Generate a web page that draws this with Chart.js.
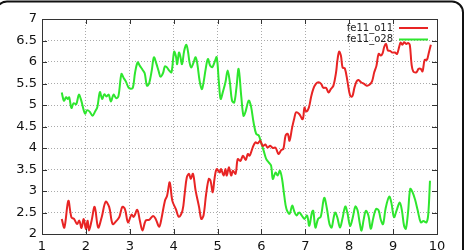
<!DOCTYPE html>
<html lang="en">
<head>
  <meta charset="UTF-8" />
  <title>fe11 distances</title>
  <script src="https://cdn.jsdelivr.net/npm/chart.js"></script>
  <style>
    html, body {
      margin: 0;
      padding: 0;
      background: #fff;
      overflow: hidden;
    }
    #wrap {
      position: relative;
      width: 467px;
      height: 250px;
    }
  </style>
</head>
<body>
  <div id="wrap"><canvas id="chart" width="467" height="250"></canvas></div>

  <script>
    const seriesNames = ["fe11_o11", "fe11_o28"];

    const o11X = [1.45, 1.51, 1.60, 1.67, 1.73, 1.80, 1.85, 1.90, 1.95, 2.00, 2.04, 2.07, 2.13, 2.20, 2.28, 2.36, 2.45, 2.53, 2.61, 2.70,
      2.76, 2.83, 2.89, 2.96, 3.04, 3.09, 3.17, 3.23, 3.29, 3.36, 3.44, 3.53, 3.59, 3.67, 3.72, 3.80, 3.85, 3.91, 3.97, 4.05,
      4.12, 4.20, 4.25, 4.30, 4.35, 4.39, 4.44, 4.50, 4.58, 4.63, 4.68, 4.74, 4.80, 4.84, 4.89, 4.93, 4.98, 5.05, 5.08, 5.14,
      5.18, 5.21, 5.26, 5.31, 5.35, 5.41, 5.46, 5.52, 5.58, 5.64, 5.69, 5.73, 5.80, 5.86, 5.92, 5.97, 6.03, 6.09, 6.14, 6.20,
      6.26, 6.32, 6.39, 6.45, 6.50, 6.55, 6.60, 6.64, 6.70, 6.75, 6.79, 6.86, 6.94, 6.98, 7.02, 7.08, 7.13, 7.18, 7.24, 7.30,
      7.36, 7.41, 7.47, 7.53, 7.58, 7.64, 7.70, 7.73, 7.77, 7.81, 7.85, 7.90, 7.96, 8.02, 8.07, 8.12, 8.17, 8.21, 8.27, 8.34,
      8.40, 8.46, 8.52, 8.57, 8.62, 8.67, 8.72, 8.76, 8.80, 8.84, 8.88, 8.93, 8.98, 9.04, 9.09, 9.14, 9.17, 9.21, 9.25, 9.30,
      9.34, 9.38, 9.42, 9.46, 9.53, 9.58, 9.63, 9.67, 9.72, 9.77, 9.81, 9.86];
    const o11Y = [2.35, 2.15, 2.77, 2.39, 2.35, 2.23, 2.31, 2.14, 2.35, 2.12, 2.31, 2.08, 2.31, 2.63, 2.15, 2.39, 2.75, 2.63, 2.23, 2.31,
      2.39, 2.63, 2.58, 2.27, 2.45, 2.40, 2.56, 2.31, 2.08, 2.31, 2.33, 2.42, 2.35, 2.17, 2.35, 2.77, 2.89, 3.20, 2.77, 2.58,
      2.40, 2.54, 2.93, 3.32, 3.40, 3.28, 3.40, 3.01, 2.62, 2.35, 2.43, 2.93, 3.28, 3.24, 2.97, 3.28, 3.51, 3.43, 3.51, 3.36,
      3.51, 3.36, 3.55, 3.36, 3.47, 3.40, 3.74, 3.70, 3.82, 3.72, 3.86, 3.82, 4.01, 4.13, 4.11, 4.17, 4.05, 4.08, 4.01, 4.05,
      4.00, 4.01, 3.86, 3.95, 3.98, 4.29, 4.33, 4.17, 4.48, 4.70, 4.83, 4.79, 4.67, 4.94, 4.85, 4.94, 5.18, 5.37, 5.49, 5.53,
      5.49, 5.40, 5.40, 5.29, 5.37, 5.45, 5.76, 6.03, 6.24, 6.15, 5.87, 5.85, 5.55, 5.22, 5.20, 5.41, 5.55, 5.58, 5.53, 5.49,
      5.45, 5.47, 5.55, 5.76, 5.91, 6.19, 6.15, 6.20, 6.36, 6.42, 6.27, 6.26, 6.22, 6.22, 6.19, 6.36, 6.45, 6.40, 6.46, 6.42,
      6.44, 6.40, 5.95, 5.78, 5.76, 5.84, 5.84, 5.78, 6.05, 6.05, 6.20, 6.40];

    const o28X = [1.45, 1.50, 1.55, 1.59, 1.62, 1.67, 1.72, 1.78, 1.84, 1.89, 1.98, 2.03, 2.09, 2.15, 2.21, 2.26, 2.32, 2.37, 2.42, 2.47,
      2.52, 2.57, 2.63, 2.69, 2.74, 2.81, 2.86, 2.91, 2.97, 3.02, 3.07, 3.12, 3.18, 3.23, 3.29, 3.34, 3.39, 3.44, 3.50, 3.55,
      3.60, 3.66, 3.70, 3.76, 3.80, 3.85, 3.90, 3.95, 4.01, 4.05, 4.08, 4.12, 4.15, 4.19, 4.24, 4.29, 4.33, 4.36, 4.40, 4.45,
      4.50, 4.54, 4.59, 4.64, 4.68, 4.73, 4.78, 4.83, 4.88, 4.93, 4.98, 5.03, 5.07, 5.12, 5.18, 5.23, 5.28, 5.33, 5.38, 5.43,
      5.48, 5.54, 5.59, 5.63, 5.71, 5.76, 5.82, 5.88, 5.94, 5.99, 6.05, 6.11, 6.17, 6.22, 6.26, 6.32, 6.37, 6.42, 6.47, 6.52,
      6.57, 6.64, 6.70, 6.75, 6.80, 6.86, 6.92, 6.98, 7.04, 7.09, 7.15, 7.18, 7.23, 7.29, 7.35, 7.43, 7.49, 7.55, 7.60, 7.64,
      7.68, 7.73, 7.79, 7.85, 7.91, 7.96, 8.02, 8.08, 8.14, 8.19, 8.24, 8.28, 8.33, 8.38, 8.44, 8.49, 8.55, 8.61, 8.67, 8.72,
      8.77, 8.83, 8.91, 8.96, 9.02, 9.08, 9.15, 9.20, 9.25, 9.29, 9.34, 9.39, 9.44, 9.50, 9.56, 9.63, 9.69, 9.76, 9.80, 9.84];
    const o28Y = [5.29, 5.10, 5.18, 5.14, 5.18, 4.93, 5.04, 5.02, 5.24, 5.12, 4.80, 4.88, 4.84, 4.75, 4.85, 4.95, 5.30, 5.14, 5.25, 5.20,
      5.24, 5.08, 5.24, 5.16, 5.20, 5.72, 5.63, 5.55, 5.41, 5.38, 5.40, 5.75, 5.99, 5.91, 5.82, 5.74, 5.45, 5.50, 5.80, 6.11,
      5.98, 5.78, 5.66, 5.75, 5.90, 5.87, 5.80, 5.76, 6.24, 6.14, 5.95, 6.22, 6.14, 5.95, 6.26, 6.40, 6.22, 6.00, 5.87, 5.98,
      6.11, 5.95, 5.57, 5.37, 5.52, 5.84, 6.07, 5.92, 5.88, 5.99, 6.11, 5.53, 5.14, 5.30, 5.53, 5.80, 5.53, 5.10, 5.06, 5.40,
      5.84, 5.20, 4.75, 4.82, 5.10, 4.98, 4.60, 4.33, 4.29, 4.13, 3.94, 3.74, 3.66, 3.59, 3.28, 3.43, 3.36, 3.47, 3.28, 2.89,
      2.58, 2.47, 2.66, 2.52, 2.43, 2.50, 2.43, 2.35, 2.43, 2.19, 2.50, 2.54, 2.15, 2.35, 2.40, 2.84, 2.60, 2.23, 2.15, 2.35,
      2.50, 2.38, 2.15, 2.38, 2.64, 2.48, 2.19, 2.38, 2.64, 2.55, 2.25, 2.08, 2.34, 2.54, 2.42, 2.12, 2.38, 2.58, 2.55, 2.33,
      2.23, 2.60, 2.87, 2.73, 2.39, 2.55, 2.73, 2.55, 2.19, 2.12, 2.50, 3.05, 2.98, 2.80, 2.55, 2.27, 2.30, 2.27, 2.45, 3.24];

    const seriesColors = ["#e82424", "#2ee62e"];

    const toPoints = (xs, ys) => xs.map((x, i) => ({ x: x, y: ys[i] }));
    const plainNum = v => String(Number(v.toFixed(2)));

    // gnuplot look: outer rounded frame, plot border, inward ticks, legend with line samples
    const gnuplotDeco = {
      id: "gnuplotDeco",
      beforeDraw(chart) {
        const c = chart.ctx;
        c.save();
        c.fillStyle = "#fff";
        c.fillRect(0, 0, chart.width, chart.height);
        c.restore();
      },
      afterDraw(chart) {
        const c = chart.ctx;
        const a = chart.chartArea;
        const xs = chart.scales.x;
        const ys = chart.scales.y;
        c.save();

        // plot border
        c.strokeStyle = "#333";
        c.lineWidth = 1;
        c.strokeRect(Math.round(a.left) + 0.5, Math.round(a.top) + 0.5,
          Math.round(a.right - a.left), Math.round(a.bottom - a.top));

        // inward tick marks on all four sides
        const tl = 5;
        c.beginPath();
        xs.ticks.forEach(t => {
          const px = Math.round(xs.getPixelForValue(t.value)) + 0.5;
          c.moveTo(px, a.bottom); c.lineTo(px, a.bottom - tl);
          c.moveTo(px, a.top); c.lineTo(px, a.top + tl);
        });
        ys.ticks.forEach(t => {
          const py = Math.round(ys.getPixelForValue(t.value)) + 0.5;
          c.moveTo(a.left, py); c.lineTo(a.left + tl, py);
          c.moveTo(a.right, py); c.lineTo(a.right - tl, py);
        });
        c.stroke();

        // legend
        c.font = "10px 'DejaVu Sans'";
        c.textAlign = "right";
        c.textBaseline = "middle";
        seriesNames.forEach((name, i) => {
          const ly = 28 + i * 11.5;
          c.fillStyle = "#222";
          c.fillText(name, 393, ly);
          c.strokeStyle = seriesColors[i];
          c.lineWidth = 2;
          c.beginPath();
          c.moveTo(399, ly);
          c.lineTo(428, ly);
          c.stroke();
        });

        // outer rounded frame
        c.strokeStyle = "#111";
        c.lineWidth = 2;
        c.beginPath();
        c.roundRect(-4, 1.5, 467, 300, 11);
        c.stroke();
        c.restore();
      }
    };

    const ctx = document.getElementById("chart").getContext("2d");
    new Chart(ctx, {
      type: "line",
      data: {
        datasets: [
          {
            label: seriesNames[0],
            data: toPoints(o11X, o11Y),
            borderColor: seriesColors[0],
            borderWidth: 2,
            pointRadius: 0,
            tension: 0.35,
            fill: false
          },
          {
            label: seriesNames[1],
            data: toPoints(o28X, o28Y),
            borderColor: seriesColors[1],
            borderWidth: 2,
            pointRadius: 0,
            tension: 0.35,
            fill: false
          }
        ]
      },
      options: {
        responsive: false,
        animation: false,
        layout: { padding: { top: 19, right: 30, left: 0, bottom: 0 } },
        plugins: {
          legend: { display: false },
          tooltip: { enabled: false }
        },
        scales: {
          x: {
            type: "linear",
            min: 1,
            max: 10,
            ticks: {
              stepSize: 1,
              padding: 5,
              color: "#111",
              font: { family: "'DejaVu Sans'", size: 13 },
              callback: plainNum
            },
            grid: {
              color: "#aaa",
              drawTicks: false
            },
            border: { display: false, dash: [1, 2] },
            afterFit: s => { s.height = 16; }
          },
          y: {
            min: 2,
            max: 7,
            ticks: {
              stepSize: 0.5,
              padding: 5,
              color: "#111",
              font: { family: "'DejaVu Sans'", size: 13 },
              callback: plainNum
            },
            grid: {
              color: "#aaa",
              drawTicks: false
            },
            border: { display: false, dash: [1, 2] },
            afterFit: s => { s.width = 42; }
          }
        }
      },
      plugins: [gnuplotDeco]
    });
  </script>
</body>
</html>
